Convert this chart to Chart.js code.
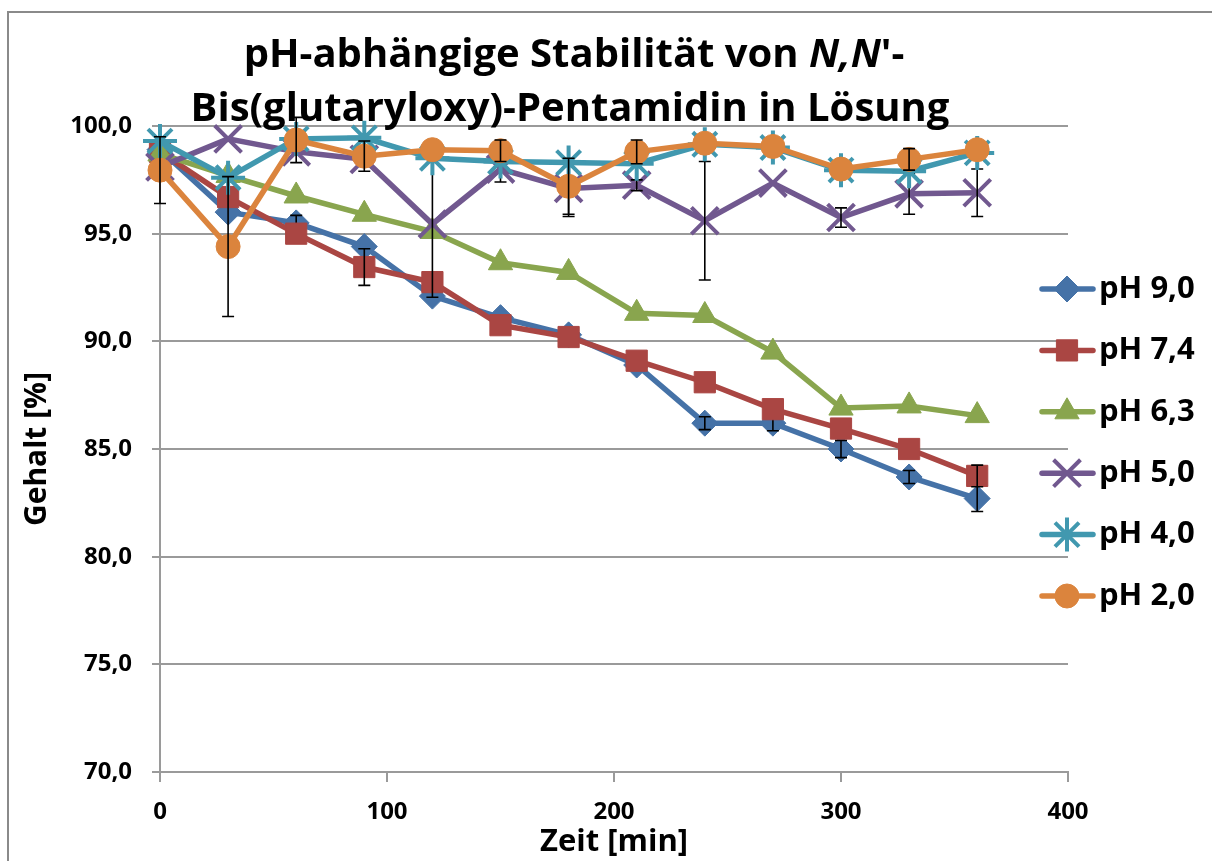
<!DOCTYPE html>
<html lang="de">
<head>
  <meta charset="UTF-8">
  <title>pH-abhängige Stabilität</title>
  <script src="https://cdn.jsdelivr.net/npm/chart.js"></script>
  <style>
    html, body { margin: 0; padding: 0; background: #fff; overflow: hidden; }
    canvas { display: block; }
  </style>
</head>
<body>
  <canvas id="grafik" width="1212" height="861"></canvas>

  <script>
    // Messzeitpunkte [min]
    const zeiten = [0, 30, 60, 90, 120, 150, 180, 210, 240, 270, 300, 330, 360];

    // Gehalt [%] je pH-Wert
    const ph90 = [98.9, 96.0, 95.5, 94.4, 92.1, 91.1, 90.3, 88.9, 86.2, 86.2, 85.0, 83.7, 82.7];
    const ph74 = [98.8, 96.7, 95.0, 93.45, 92.75, 90.75, 90.2, 89.1, 88.1, 86.85, 85.95, 85.0, 83.75];
    const ph63 = [98.7, 97.7, 96.75, 95.9, 95.1, 93.65, 93.2, 91.3, 91.2, 89.5, 86.9, 87.0, 86.55];
    const ph50 = [98.1, 99.4, 98.8, 98.45, 95.45, 98.0, 97.1, 97.25, 95.6, 97.35, 95.75, 96.85, 96.9];
    const ph40 = [99.3, 97.6, 99.4, 99.45, 98.5, 98.35, 98.3, 98.25, 99.15, 99.0, 97.95, 97.9, 98.75];
    const ph20 = [97.95, 94.4, 99.35, 98.6, 98.9, 98.85, 97.2, 98.8, 99.2, 99.05, 98.0, 98.45, 98.9];

    // Standardabweichungen (0 = kein Fehlerbalken sichtbar)
    const err90 = [0, 0, 0.35, 0, 0, 0, 0, 0, 0.3, 0.35, 0.4, 0.3, 0.6];
    const err74 = [0, 0, 0, 0.85, 0, 0, 0, 0, 0, 0, 0, 0, 0.5];
    const err63 = [0, 0, 0, 0, 0, 0, 0, 0, 0, 0, 0, 0, 0];
    const err50 = [0, 0, 0, 0, 3.4, 0.6, 1.3, 0.25, 2.75, 0, 0.45, 0.95, 1.1];
    const err40 = [0, 0, 0, 0, 0, 0, 0, 0, 0, 0, 0, 0, 0];
    const err20 = [1.55, 3.25, 1.05, 0.7, 0, 0.5, 1.3, 0.55, 0, 0, 0, 0.5, 0];

    const labels = ['pH 9,0', 'pH 7,4', 'pH 6,3', 'pH 5,0', 'pH 4,0', 'pH 2,0'];
    const titelZeile1 = [['pH-abhängige Stabilität von ', 'bold'], ['N,N', 'italic bold'], ["'-", 'bold']];
    const titelZeile2 = 'Bis(glutaryloxy)-Pentamidin in Lösung';

    const SCHRIFT = '"Open Sans", "Noto Sans", sans-serif';

    function serie(i, werte, fehler, farbe, stil, radius, rand) {
      return {
        label: labels[i],
        data: zeiten.map((t, k) => ({ x: t, y: werte[k] })),
        fehler: fehler,
        borderColor: farbe,
        backgroundColor: farbe,
        borderWidth: 5.5,
        pointStyle: stil,
        pointRadius: radius,
        pointHoverRadius: radius,
        pointBorderWidth: rand,
        pointBackgroundColor: farbe,
        pointBorderColor: farbe,
        tension: 0,
        clip: false,
        order: 6 - i
      };
    }

    // Rahmen und Titel
    const rahmenPlugin = {
      id: 'rahmen',
      beforeDraw(chart) {
        const ctx = chart.ctx;
        ctx.save();
        ctx.fillStyle = '#fff';
        ctx.fillRect(0, 0, chart.width, chart.height);
        ctx.strokeStyle = '#8a8a8a';
        ctx.lineWidth = 2;
        ctx.strokeRect(8, 12, chart.width + 20, chart.height + 20);
        ctx.restore();
      },
      afterDraw(chart) {
        const ctx = chart.ctx;
        ctx.save();
        ctx.fillStyle = '#000';
        ctx.textBaseline = 'alphabetic';
        ctx.textAlign = 'left';
        // Zeile 1 mit kursivem N,N
        let breite = 0;
        titelZeile1.forEach(([t, f]) => { ctx.font = f + ' 40px ' + SCHRIFT; breite += ctx.measureText(t).width; });
        let x = 574 - breite / 2;
        titelZeile1.forEach(([t, f]) => {
          ctx.font = f + ' 40px ' + SCHRIFT;
          ctx.fillText(t, x, 67);
          x += ctx.measureText(t).width;
        });
        ctx.font = 'bold 40px ' + SCHRIFT;
        ctx.textAlign = 'center';
        ctx.fillText(titelZeile2, 570, 121);
        ctx.restore();
      }
    };

    // Fehlerbalken je Datenreihe
    const fehlerPlugin = {
      id: 'fehlerbalken',
      afterDatasetDraw(chart, args) {
        const ds = chart.data.datasets[args.index];
        if (!ds.fehler) return;
        const meta = args.meta;
        const yScale = chart.scales.y;
        const ctx = chart.ctx;
        ctx.save();
        ctx.strokeStyle = '#000';
        ctx.lineWidth = 1.6;
        meta.data.forEach((pt, k) => {
          const e = ds.fehler[k];
          if (!e) return;
          const w = ds.data[k].y;
          const yo = yScale.getPixelForValue(w + e);
          const yu = yScale.getPixelForValue(w - e);
          ctx.beginPath();
          ctx.moveTo(pt.x, yo); ctx.lineTo(pt.x, yu);
          ctx.moveTo(pt.x - 6, yo); ctx.lineTo(pt.x + 6, yo);
          ctx.moveTo(pt.x - 6, yu); ctx.lineTo(pt.x + 6, yu);
          ctx.stroke();
        });
        ctx.restore();
      }
    };

    // Legende im Excel-Stil (Linie mit Markierung)
    const legendePlugin = {
      id: 'legende',
      afterDraw(chart) {
        const ctx = chart.ctx;
        ctx.save();
        chart.data.datasets.forEach((ds, i) => {
          const y = 289 + i * 61.4;
          ctx.strokeStyle = ds.borderColor;
          ctx.lineWidth = 5.5;
          ctx.lineCap = 'round';
          ctx.beginPath();
          ctx.moveTo(1042, y); ctx.lineTo(1093, y);
          ctx.stroke();
          ctx.lineCap = 'butt';
          ctx.fillStyle = ds.pointBackgroundColor;
          ctx.strokeStyle = ds.pointBorderColor;
          ctx.lineWidth = ds.pointBorderWidth;
          Chart.helpers.drawPoint(ctx, {
            pointStyle: ds.pointStyle, radius: ds.pointRadius, borderWidth: ds.pointBorderWidth, rotation: 0
          }, 1067, y);
          ctx.fillStyle = '#000';
          ctx.font = 'bold 31px ' + SCHRIFT;
          ctx.textAlign = 'left';
          ctx.textBaseline = 'middle';
          ctx.fillText(ds.label, 1099, y);
        });
        ctx.restore();
      }
    };

    const ctx = document.getElementById('grafik').getContext('2d');
    new Chart(ctx, {
      type: 'line',
      data: {
        datasets: [
          serie(0, ph90, err90, '#4572A7', 'rectRot', 13, 1),
          serie(1, ph74, err74, '#AA4643', 'rect', 15, 1),
          serie(2, ph63, err63, '#89A54E', 'triangle', 14, 1),
          serie(3, ph50, err50, '#71588F', 'crossRot', 19, 4),
          serie(4, ph40, err40, '#4198AF', 'star', 17, 4),
          serie(5, ph20, err20, '#DB843D', 'circle', 12, 1)
        ]
      },
      plugins: [rahmenPlugin, fehlerPlugin, legendePlugin],
      options: {
        responsive: false,
        animation: false,
        devicePixelRatio: 1,
        layout: { padding: { top: 126, right: 144, left: 0, bottom: 0 } },
        plugins: {
          legend: { display: false },
          title: { display: false },
          tooltip: { enabled: false }
        },
        scales: {
          x: {
            type: 'linear',
            min: 0,
            max: 400,
            afterFit(scale) { scale.height = 89; },
            ticks: { stepSize: 100, color: '#000', padding: 16, font: { family: SCHRIFT, size: 24, weight: 'bold' } },
            grid: { drawOnChartArea: false, drawTicks: true, tickLength: 10, color: '#9a9a9a', lineWidth: 2 },
            border: { display: true, color: '#9a9a9a', width: 2 },
            title: { display: true, text: 'Zeit [min]', color: '#000', padding: { top: 0, bottom: 0 }, font: { family: SCHRIFT, size: 31, weight: 'bold' } }
          },
          y: {
            min: 70,
            max: 100,
            afterFit(scale) { scale.width = 160; },
            ticks: {
              stepSize: 5, color: '#000', padding: 20,
              font: { family: SCHRIFT, size: 24, weight: 'bold' },
              callback: v => v.toFixed(1).replace('.', ',')
            },
            grid: { color: '#9a9a9a', lineWidth: 2, tickLength: 8 },
            border: { display: true, color: '#9a9a9a', width: 2 },
            title: { display: true, text: 'Gehalt [%]', color: '#000', padding: { top: 19, bottom: 0 }, font: { family: SCHRIFT, size: 30, weight: 'bold' } }
          }
        }
      }
    });
  </script>
</body>
</html>
